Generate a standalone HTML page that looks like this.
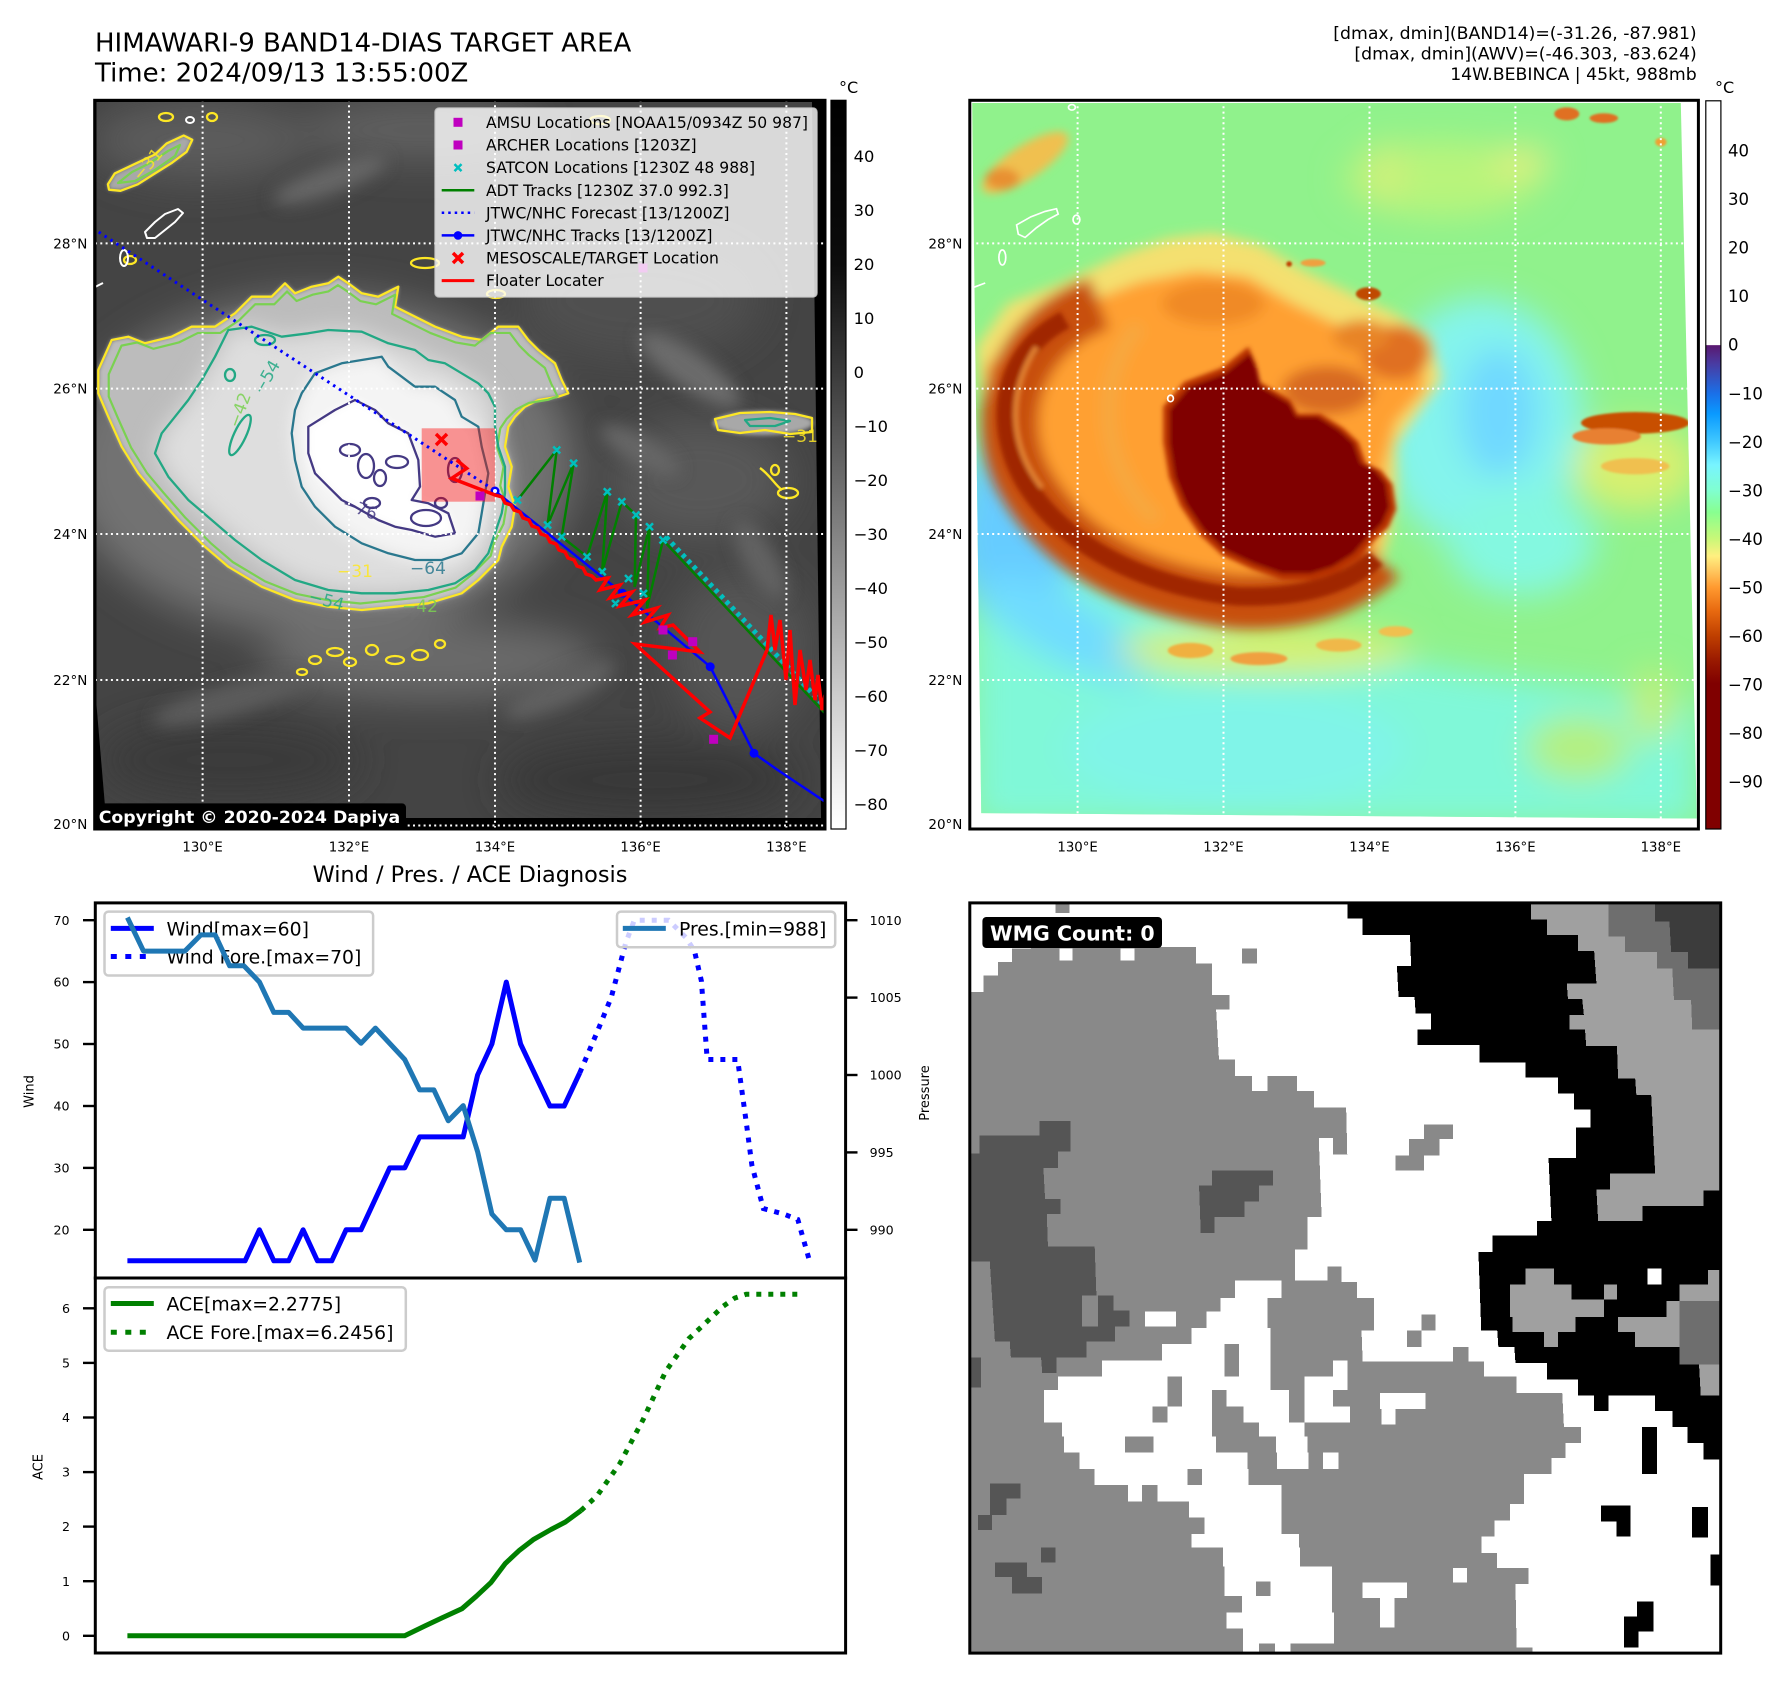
<!DOCTYPE html>
<html><head><meta charset="utf-8">
<style>
html,body{margin:0;padding:0;background:#fff;}
body{width:1788px;height:1690px;overflow:hidden;}
svg text{font-family:"DejaVu Sans","Liberation Sans",sans-serif;}
</style></head><body>
<svg width="1788" height="1690" viewBox="0 0 1788 1690" xmlns="http://www.w3.org/2000/svg">
<defs>
<filter id="f2" x="-50%" y="-50%" width="200%" height="200%"><feGaussianBlur stdDeviation="2"/></filter>
<filter id="f4" x="-50%" y="-50%" width="200%" height="200%"><feGaussianBlur stdDeviation="4"/></filter>
<filter id="f8" x="-50%" y="-50%" width="200%" height="200%"><feGaussianBlur stdDeviation="8"/></filter>
<filter id="f12" x="-50%" y="-50%" width="200%" height="200%"><feGaussianBlur stdDeviation="12"/></filter>
<filter id="f20" x="-50%" y="-50%" width="200%" height="200%"><feGaussianBlur stdDeviation="20"/></filter>
<filter id="f30" x="-50%" y="-50%" width="200%" height="200%"><feGaussianBlur stdDeviation="30"/></filter>
<clipPath id="clL"><rect x="94.7" y="100.3" width="730.3" height="728.7"/></clipPath>
<clipPath id="dL"><polygon points="96.5,102 812,102 821,818 106,818 96.5,705"/></clipPath>
<clipPath id="clW"><rect x="95.3" y="902.9" width="750.3" height="375.1"/></clipPath>
<clipPath id="clA"><rect x="95.3" y="1278" width="750.3" height="375"/></clipPath>
<linearGradient id="cb1" x1="0" y1="0" x2="0" y2="1">
<stop offset="0" stop-color="#000"/><stop offset="0.225" stop-color="#0c0c0c"/><stop offset="0.372" stop-color="#3a3a3a"/><stop offset="0.521" stop-color="#6b6b6b"/><stop offset="0.669" stop-color="#9c9c9c"/><stop offset="0.818" stop-color="#cdcdcd"/><stop offset="0.966" stop-color="#f7f7f7"/><stop offset="1" stop-color="#fff"/>
</linearGradient>
<linearGradient id="cb2" x1="0" y1="0" x2="0" y2="1">
<stop offset="0" stop-color="#fff"/><stop offset="0.335" stop-color="#fff"/><stop offset="0.336" stop-color="#5a1870"/><stop offset="0.36" stop-color="#4a3aa0"/><stop offset="0.402" stop-color="#1a70e8"/><stop offset="0.43" stop-color="#0a9aff"/><stop offset="0.468" stop-color="#40c8ff"/><stop offset="0.5" stop-color="#78f4ff"/><stop offset="0.535" stop-color="#80ffd0"/><stop offset="0.565" stop-color="#88ff90"/><stop offset="0.601" stop-color="#c8f878"/><stop offset="0.625" stop-color="#fff080"/><stop offset="0.645" stop-color="#ffc860"/><stop offset="0.668" stop-color="#ff9a30"/><stop offset="0.7" stop-color="#e86a10"/><stop offset="0.734" stop-color="#c04000"/><stop offset="0.77" stop-color="#981800"/><stop offset="0.8" stop-color="#800000"/><stop offset="1" stop-color="#800000"/>
</linearGradient>
</defs>

<!-- ===== TITLES ===== -->
<text x="95" y="51.5" font-size="26">HIMAWARI-9 BAND14-DIAS TARGET AREA</text>
<text x="95" y="81.3" font-size="26">Time: 2024/09/13 13:55:00Z</text>
<text x="1696.7" y="38.8" font-size="17.3" text-anchor="end">[dmax, dmin](BAND14)=(-31.26, -87.981)</text>
<text x="1696.7" y="59.4" font-size="17.3" text-anchor="end">[dmax, dmin](AWV)=(-46.303, -83.624)</text>
<text x="1696.7" y="80" font-size="17.3" text-anchor="end">14W.BEBINCA | 45kt, 988mb</text>

<!-- ===== LEFT MAP ===== -->
<g clip-path="url(#clL)">
<rect x="94.7" y="100.3" width="730.3" height="728.7" fill="#000"/>
<polygon points="96.5,102 812,102 821,818 106,818 96.5,705" fill="#444"/>
<g clip-path="url(#dL)">
 <g filter="url(#f20)">
  <ellipse cx="200" cy="140" rx="110" ry="40" fill="#5c5c5c"/>
  <ellipse cx="420" cy="130" rx="120" ry="30" fill="#606060"/>
  <ellipse cx="640" cy="300" rx="120" ry="60" fill="#505050"/>
  <ellipse cx="700" cy="480" rx="90" ry="60" fill="#585858"/>
  <ellipse cx="740" cy="650" rx="70" ry="80" fill="#545454"/>
  <ellipse cx="430" cy="660" rx="170" ry="40" fill="#6a6a6a"/>
  <ellipse cx="230" cy="760" rx="130" ry="40" fill="#3a3a3a"/>
  <ellipse cx="650" cy="780" rx="150" ry="40" fill="#383838"/>
  <ellipse cx="320" cy="465" rx="255" ry="170" fill="#727272"/>
 </g>
 <g filter="url(#f8)">
  <ellipse cx="690" cy="370" rx="60" ry="18" transform="rotate(35 690 370)" fill="#6c6c6c"/>
  <ellipse cx="640" cy="450" rx="45" ry="14" transform="rotate(30 640 450)" fill="#666"/>
  <ellipse cx="760" cy="560" rx="45" ry="16" transform="rotate(60 760 560)" fill="#626262"/>
  <ellipse cx="560" cy="690" rx="60" ry="15" transform="rotate(-25 560 690)" fill="#606060"/>
  <ellipse cx="230" cy="700" rx="80" ry="16" transform="rotate(-15 230 700)" fill="#5c5c5c"/>
  <ellipse cx="330" cy="180" rx="60" ry="14" transform="rotate(-20 330 180)" fill="#666"/>
 </g>
 <polygon filter="url(#f2)" fill="#a8a8a8" points="107.9,184.3 114.8,173.4 137.8,162.6 155,154.5 166.5,143.6 183.7,135.5 192.3,139.8 186.6,151.8 172.2,162.6 155,173.4 137.8,184.3 120.5,190.8 109,189.7"/>
 <ellipse cx="763" cy="423" rx="50" ry="12" fill="#a8a8a8" filter="url(#f2)"/>
 <polygon filter="url(#f2)" fill="#bcbcbc" points="98.3,370 111.7,340 128.3,336.7 145,343.3 171.7,336.7 191.7,326.7 215,326.7 235,313.3 251.7,296.7 271.7,296.7 285,283.3 295,293.3 311.7,286.7 328.3,283.3 338.3,276.7 348.3,283.3 361.7,293.3 378.3,296.7 398.3,286.7 395,306.7 415,316.7 435,326.7 461.7,336.7 481.7,340 498.3,326.7 518.3,326.7 528.3,340 538.3,350 555,363.3 561.7,380 568.3,393.3 558.3,396.7 538.3,400 525,406.7 515,416.7 508.3,426.7 505,446.7 511.7,466.7 508.3,486.7 515,506.7 511.7,526.7 501.7,546.7 498.3,560 478.3,580 461.7,593.3 428.3,603.3 395,606.7 361.7,610 328.3,606.7 295,600 261.7,586.7 228.3,566.7 205,546.7 178.3,520 155,493.3 138.3,473.3 121.7,446.7 108.3,416.7 98.3,393.3"/>
 <polygon filter="url(#f12)" fill="#dedede" points="228.3,330 251.7,326.7 281.7,336.7 308.3,333.3 328.3,330 361.7,331.7 388.3,343.3 415,350 428.3,360 445,363.3 461.7,373.3 478.3,383.3 488.3,393.3 495,406.7 495,426.7 498.3,446.7 505,466.7 505,493.3 501.7,513.3 495,533.3 488.3,553.3 475,570 455,583.3 428.3,590 395,593.3 361.7,593.3 328.3,590 295,580 261.7,560 235,540 211.7,520 188.3,500 168.3,476.7 155,453.3 161.7,433.3 175,416.7 188.3,400 201.7,380 215,356.7"/>
 <polygon filter="url(#f8)" fill="#f4f4f4" points="301.7,393.3 315,373.3 341.7,363.3 361.7,360 381.7,356.7 388.3,366.7 401.7,376.7 415,386.7 435,386.7 455,400 461.7,416.7 478.3,426.7 481.7,446.7 488.3,473.3 485,493.3 481.7,513.3 478.3,533.3 461.7,553.3 441.7,560 415,560 388.3,553.3 361.7,543.3 335,526.7 315,506.7 301.7,486.7 295,460 291.7,433.3 295,410"/>
 <polygon filter="url(#f4)" fill="#ffffff" points="308.3,426.7 335,410 355,400 375,410 388.3,423.3 408.3,433.3 418.3,460 420,486.7 411.7,500 428.3,503.3 448.3,513.3 455,533.3 435,536.7 411.7,530 395,526.7 378.3,520 355,506.7 341.7,500 328.3,486.7 315,473.3 308.3,453.3"/>
</g>
<!-- contours -->
<g fill="none" stroke-width="2.3" stroke-linejoin="round">
 <polygon stroke="#fde725" points="98.3,370 111.7,340 128.3,336.7 145,343.3 171.7,336.7 191.7,326.7 215,326.7 235,313.3 251.7,296.7 271.7,296.7 285,283.3 295,293.3 311.7,286.7 328.3,283.3 338.3,276.7 348.3,283.3 361.7,293.3 378.3,296.7 398.3,286.7 395,306.7 415,316.7 435,326.7 461.7,336.7 481.7,340 498.3,326.7 518.3,326.7 528.3,340 538.3,350 555,363.3 561.7,380 568.3,393.3 558.3,396.7 538.3,400 525,406.7 515,416.7 508.3,426.7 505,446.7 511.7,466.7 508.3,486.7 515,506.7 511.7,526.7 501.7,546.7 498.3,560 478.3,580 461.7,593.3 428.3,603.3 395,606.7 361.7,610 328.3,606.7 295,600 261.7,586.7 228.3,566.7 205,546.7 178.3,520 155,493.3 138.3,473.3 121.7,446.7 108.3,416.7 98.3,393.3"/>
 <polygon stroke="#7ad151" transform="translate(330,465) scale(0.955) translate(-330,-465)" points="98.3,370 111.7,340 128.3,336.7 145,343.3 171.7,336.7 191.7,326.7 215,326.7 235,313.3 251.7,296.7 271.7,296.7 285,283.3 295,293.3 311.7,286.7 328.3,283.3 338.3,276.7 348.3,283.3 361.7,293.3 378.3,296.7 398.3,286.7 395,306.7 415,316.7 435,326.7 461.7,336.7 481.7,340 498.3,326.7 518.3,326.7 528.3,340 538.3,350 555,363.3 561.7,380 568.3,393.3 558.3,396.7 538.3,400 525,406.7 515,416.7 508.3,426.7 505,446.7 511.7,466.7 508.3,486.7 515,506.7 511.7,526.7 501.7,546.7 498.3,560 478.3,580 461.7,593.3 428.3,603.3 395,606.7 361.7,610 328.3,606.7 295,600 261.7,586.7 228.3,566.7 205,546.7 178.3,520 155,493.3 138.3,473.3 121.7,446.7 108.3,416.7 98.3,393.3"/>
 <polygon stroke="#22a884" points="228.3,330 251.7,326.7 281.7,336.7 308.3,333.3 328.3,330 361.7,331.7 388.3,343.3 415,350 428.3,360 445,363.3 461.7,373.3 478.3,383.3 488.3,393.3 495,406.7 495,426.7 498.3,446.7 505,466.7 505,493.3 501.7,513.3 495,533.3 488.3,553.3 475,570 455,583.3 428.3,590 395,593.3 361.7,593.3 328.3,590 295,580 261.7,560 235,540 211.7,520 188.3,500 168.3,476.7 155,453.3 161.7,433.3 175,416.7 188.3,400 201.7,380 215,356.7"/>
 <polygon stroke="#2a788e" points="301.7,393.3 315,373.3 341.7,363.3 361.7,360 381.7,356.7 388.3,366.7 401.7,376.7 415,386.7 435,386.7 455,400 461.7,416.7 478.3,426.7 481.7,446.7 488.3,473.3 485,493.3 481.7,513.3 478.3,533.3 461.7,553.3 441.7,560 415,560 388.3,553.3 361.7,543.3 335,526.7 315,506.7 301.7,486.7 295,460 291.7,433.3 295,410"/>
 <polygon stroke="#443983" points="308.3,426.7 335,410 355,400 375,410 388.3,423.3 408.3,433.3 418.3,460 420,486.7 411.7,500 428.3,503.3 448.3,513.3 455,533.3 435,536.7 411.7,530 395,526.7 378.3,520 355,506.7 341.7,500 328.3,486.7 315,473.3 308.3,453.3"/>
 <g stroke="#443983">
  <ellipse cx="350" cy="450" rx="10" ry="6"/><ellipse cx="366" cy="466" rx="8" ry="12"/><ellipse cx="397" cy="462" rx="11" ry="6"/><ellipse cx="426" cy="518" rx="15" ry="8"/><ellipse cx="441" cy="503" rx="6" ry="5"/><ellipse cx="380" cy="478" rx="6" ry="8"/><ellipse cx="455" cy="470" rx="7" ry="12"/><ellipse cx="372" cy="503" rx="8" ry="5"/>
 </g>
 <g stroke="#22a884"><ellipse cx="240" cy="435" rx="6" ry="22" transform="rotate(25 240 435)"/><ellipse cx="230" cy="375" rx="5" ry="6"/><ellipse cx="265" cy="340" rx="10" ry="5"/></g>
 <polygon stroke="#fde725" points="107.9,184.3 114.8,173.4 137.8,162.6 155,154.5 166.5,143.6 183.7,135.5 192.3,139.8 186.6,151.8 172.2,162.6 155,173.4 137.8,184.3 120.5,190.8 109,189.7"/>
 <polygon stroke="#7ad151" points="118,183 132,172 150,163 168,151 180,145 175,156 155,170 135,181"/>
 <polygon stroke="#fde725" points="715,419 740,413 770,412 795,414 812,418 812,432 790,434 765,430 740,433 718,430"/>
 <polygon stroke="#22a884" points="745,420 770,418 790,421 775,426 750,426"/>
 <g stroke="#fde725">
  <ellipse cx="166" cy="117" rx="7" ry="4"/><ellipse cx="212" cy="117" rx="5" ry="4"/><ellipse cx="425" cy="263" rx="14" ry="5"/><ellipse cx="496" cy="294" rx="9" ry="4"/>
  <path d="M760,468 C770,475 775,485 782,490"/><ellipse cx="788" cy="493" rx="10" ry="5"/><ellipse cx="775" cy="470" rx="4" ry="5"/>
  <ellipse cx="315" cy="660" rx="6" ry="4"/><ellipse cx="335" cy="652" rx="8" ry="4"/><ellipse cx="350" cy="662" rx="6" ry="4"/><ellipse cx="372" cy="650" rx="6" ry="5"/><ellipse cx="395" cy="660" rx="9" ry="4"/><ellipse cx="420" cy="655" rx="8" ry="5"/><ellipse cx="440" cy="644" rx="5" ry="4"/><ellipse cx="302" cy="672" rx="5" ry="3"/>
  <ellipse cx="600" cy="120" rx="10" ry="4"/><ellipse cx="130" cy="260" rx="6" ry="4"/>
 </g>
 <g stroke="#ffffff" stroke-width="2">
  <polygon points="145,232 155,222 165,214 178,209 183,213 175,222 165,230 155,238 147,238"/>
  <ellipse cx="124" cy="258" rx="4" ry="8"/><path d="M95,287 L103,283"/><ellipse cx="190" cy="120" rx="4" ry="3"/>
 </g>
</g>
<g font-size="17" opacity="0.85">
 <text x="271.7" y="380" fill="#22a884" transform="rotate(-60 271.7 380)" text-anchor="middle">−54</text>
 <text x="358" y="514" fill="#443983" transform="rotate(20 358 514)" text-anchor="middle">−76</text>
 <text x="355" y="577" fill="#fde725" text-anchor="middle">−31</text>
 <text x="428" y="574" fill="#2a788e" text-anchor="middle">−64</text>
 <text x="325" y="606" fill="#22a884" transform="rotate(15 325 606)" text-anchor="middle">−54</text>
 <text x="420" y="612" fill="#7ad151" text-anchor="middle">−42</text>
 <text x="800" y="442" fill="#fde725" text-anchor="middle">−31</text>
 <text x="152" y="168" fill="#fde725" transform="rotate(-50 152 168)" text-anchor="middle">−31</text>
 <text x="245" y="412" fill="#7ad151" transform="rotate(-70 245 412)" text-anchor="middle">−42</text>
</g>
<!-- gridlines -->
<g stroke="#fff" stroke-width="2" stroke-dasharray="2 3.3">
 <line x1="202.6" y1="100" x2="202.6" y2="829"/><line x1="349" y1="100" x2="349" y2="829"/><line x1="495" y1="100" x2="495" y2="829"/><line x1="640.6" y1="100" x2="640.6" y2="829"/><line x1="786.4" y1="100" x2="786.4" y2="829"/>
 <line x1="95" y1="243.4" x2="825" y2="243.4"/><line x1="95" y1="388.6" x2="825" y2="388.6"/><line x1="95" y1="534" x2="825" y2="534"/><line x1="95" y1="680" x2="825" y2="680"/><line x1="95" y1="825.5" x2="825" y2="825.5"/>
</g>
<!-- tracks -->
<rect x="643" y="268" width="9" height="9" fill="#bf00bf" transform="translate(-4.5,-4.5)"/>
<rect x="421.7" y="428.3" width="73.3" height="73.4" fill="#ff0000" opacity="0.4"/>
<line x1="98.7" y1="232" x2="494.8" y2="490.6" stroke="#0000ff" stroke-width="3" stroke-dasharray="2.5 4.5"/>
<polyline fill="none" stroke="#00bfbf" stroke-width="5" stroke-dasharray="4 4" points="666,537 828,710"/>
<polyline fill="none" stroke="#008000" stroke-width="2.5" points="517.5,500 556.7,450 547.6,525 573.6,463.3 561.7,536.7 587,556.7 607.3,491.7 602.2,571.7 621.8,501.7 636,515 634.6,587 649.5,526.7 647,608 663,540 825,713.3"/>
<g stroke="#00bfbf" stroke-width="2.5" fill="none">
 <path d="M514,496.5l7,7m0,-7l-7,7 M553.2,446.5l7,7m0,-7l-7,7 M544.1,521.5l7,7m0,-7l-7,7 M570.1,459.8l7,7m0,-7l-7,7 M558.2,533.2l7,7m0,-7l-7,7 M583.5,553.2l7,7m0,-7l-7,7 M603.8,488.2l7,7m0,-7l-7,7 M598.7,568.2l7,7m0,-7l-7,7 M618.3,498.2l7,7m0,-7l-7,7 M632.5,511.5l7,7m0,-7l-7,7 M646,523.2l7,7m0,-7l-7,7 M659.5,536.5l7,7m0,-7l-7,7 M625,575l7,7m0,-7l-7,7 M640,590l7,7m0,-7l-7,7 M612,600l7,7m0,-7l-7,7"/>
</g>
<polyline fill="none" stroke="#0000ff" stroke-width="2.5" points="495,491 622.5,593.3 710.2,666.7 754,753.3 777.7,770 830,805"/>
<g fill="#0000ff"><circle cx="495" cy="491" r="4.5"/><circle cx="622.5" cy="593.3" r="4.5"/><circle cx="710.2" cy="666.7" r="4.5"/><circle cx="754" cy="753.3" r="4.5"/></g>
<circle cx="495" cy="491" r="2" fill="#fff"/>
<polyline fill="none" stroke="#ff0000" stroke-width="3.5" stroke-linejoin="miter" points="456.7,460 466.7,468.3 451.7,478.3 495,495 502,497 505,503 511,505 514,510 520,512 523,518 529,520 532,526 538,528 541,534 547,536 550,542 556,544 559,550 565,552 568,558 574,560 577,566 583,568 586,574 592,576 596,580 608,578 600,590 620,585 610,598 632,592 620,606 645,600 632,615 657,608 645,622 668,615 660,628 673,625 700,652 635,644 656,663 710,712 700,718 730,738 767,650 771,615 775,650 780,620 786,680 790,630 795,705 800,650 806,690 810,660 815,700 818,675 822,710 825,695"/>
<g fill="#bf00bf"><rect x="475.5" y="491.5" width="9" height="9"/><rect x="658.5" y="625.5" width="9" height="9"/><rect x="688.2" y="637.2" width="9" height="9"/><rect x="667.9" y="650.5" width="9" height="9"/><rect x="709.1" y="734.8" width="9" height="9"/></g>
<path d="M436,434l11,11m0,-11l-11,11" stroke="#ff0000" stroke-width="3.5"/>
<!-- legend -->
<rect x="435" y="108" width="382" height="189" rx="4" fill="#fff" fill-opacity="0.8" stroke="#cccccc" stroke-opacity="0.8" stroke-width="1.5"/>
<g font-size="15.6" fill="#000">
 <text x="486" y="127.9">AMSU Locations [NOAA15/0934Z 50 987]</text>
 <text x="486" y="150.6">ARCHER Locations [1203Z]</text>
 <text x="486" y="173.2">SATCON Locations [1230Z 48 988]</text>
 <text x="486" y="195.8">ADT Tracks [1230Z 37.0 992.3]</text>
 <text x="486" y="218.4">JTWC/NHC Forecast [13/1200Z]</text>
 <text x="486" y="241">JTWC/NHC Tracks [13/1200Z]</text>
 <text x="486" y="263.6">MESOSCALE/TARGET Location</text>
 <text x="486" y="286.2">Floater Locater</text>
</g>
<rect x="453.5" y="117.8" width="9" height="9" fill="#bf00bf"/>
<rect x="453.5" y="140.5" width="9" height="9" fill="#bf00bf"/>
<path d="M454.5,164.1l7,7m0,-7l-7,7" stroke="#00bfbf" stroke-width="2.5"/>
<line x1="441.7" y1="190.2" x2="474.3" y2="190.2" stroke="#008000" stroke-width="2.5"/>
<line x1="441.7" y1="212.8" x2="474.3" y2="212.8" stroke="#0000ff" stroke-width="2.5" stroke-dasharray="2.5 4"/>
<line x1="441.7" y1="235.4" x2="474.3" y2="235.4" stroke="#0000ff" stroke-width="2.5"/>
<circle cx="458" cy="235.4" r="4.3" fill="#0000ff"/>
<path d="M453,253l10,10m0,-10l-10,10" stroke="#ff0000" stroke-width="3.5"/>
<line x1="441.7" y1="280.6" x2="474.3" y2="280.6" stroke="#ff0000" stroke-width="3"/>
<!-- copyright -->
<rect x="93" y="803.4" width="313" height="27" rx="4" fill="#000"/>
<text x="98.7" y="822.8" font-size="17.3" font-weight="bold" fill="#fff">Copyright © 2020-2024 Dapiya</text>
</g>
<rect x="94.7" y="100.3" width="730.3" height="728.7" fill="none" stroke="#000" stroke-width="3"/>

<!-- colorbar 1 -->
<rect x="831" y="100.3" width="15" height="728.7" fill="url(#cb1)" stroke="#000" stroke-width="1.2"/>
<text x="839" y="93" font-size="16">°C</text>
<g font-size="16.3">
<text x="853.6" y="162">40</text><text x="853.6" y="216">30</text><text x="853.6" y="270">20</text><text x="853.6" y="323.9">10</text><text x="853.6" y="377.9">0</text><text x="853.6" y="431.9">−10</text><text x="853.6" y="485.9">−20</text><text x="853.6" y="539.9">−30</text><text x="853.6" y="593.8">−40</text><text x="853.6" y="647.8">−50</text><text x="853.6" y="701.8">−60</text><text x="853.6" y="755.8">−70</text><text x="853.6" y="809.8">−80</text>
</g>
<!-- map labels -->
<g font-size="13.5" text-anchor="end">
<text x="87.3" y="248.3">28°N</text><text x="87.3" y="393.5">26°N</text><text x="87.3" y="538.9">24°N</text><text x="87.3" y="684.9">22°N</text><text x="87.3" y="829">20°N</text>
<text x="962.4" y="248.3">28°N</text><text x="962.4" y="393.5">26°N</text><text x="962.4" y="538.9">24°N</text><text x="962.4" y="684.9">22°N</text><text x="962.4" y="829">20°N</text>
</g>
<g font-size="13.3" text-anchor="middle">
<text x="202.6" y="851.4">130°E</text><text x="349" y="851.4">132°E</text><text x="495" y="851.4">134°E</text><text x="640.6" y="851.4">136°E</text><text x="786.4" y="851.4">138°E</text>
<text x="1077.6" y="851.4">130°E</text><text x="1223.5" y="851.4">132°E</text><text x="1369.5" y="851.4">134°E</text><text x="1515.4" y="851.4">136°E</text><text x="1660.8" y="851.4">138°E</text>
</g>

<!-- ===== RIGHT MAP (zoom coords) ===== -->
<svg x="894" y="0" width="894" height="850" viewBox="0 0 1568 1568" preserveAspectRatio="none">
<defs><clipPath id="rd"><polygon points="137,190 1380,190 1408,1510 153,1500"/></clipPath></defs>
<rect x="135" y="187" width="1276" height="1343" fill="#fff"/>
<g clip-path="url(#rd)">
 <rect x="130" y="185" width="1290" height="1350" fill="#90f28c"/>
 <g filter="url(#f30)">
  <path d="M137,760 C300,950 450,1120 700,1180 C900,1230 1100,1250 1408,1300 L1408,1520 L140,1520 Z" fill="#80f8d8"/>
  <ellipse cx="210" cy="980" rx="110" ry="170" fill="#66ccff"/>
  <ellipse cx="300" cy="1160" rx="170" ry="60" transform="rotate(30 300 1160)" fill="#70dcff"/>
  <ellipse cx="600" cy="1380" rx="300" ry="110" fill="#80f4e8"/>
  <ellipse cx="1030" cy="780" rx="180" ry="230" fill="#84f4ec"/>
  <ellipse cx="1060" cy="760" rx="70" ry="120" fill="#70d8ff"/>
  <ellipse cx="1100" cy="1000" rx="130" ry="100" fill="#84f8e0"/>
  <ellipse cx="960" cy="330" rx="170" ry="70" fill="#b8f47c"/>
  <ellipse cx="1100" cy="300" rx="50" ry="30" fill="#e0f080"/>
  <ellipse cx="860" cy="320" rx="30" ry="60" fill="#d0f07c"/>
  <ellipse cx="1300" cy="860" rx="110" ry="80" fill="#d8f070"/>
  <ellipse cx="650" cy="1200" rx="260" ry="45" fill="#d8f070"/>
  <ellipse cx="1200" cy="1380" rx="90" ry="60" fill="#b4f080"/>
  <ellipse cx="1330" cy="1300" rx="40" ry="70" fill="#c0f078"/>
 </g>
 <g filter="url(#f8)">
  <ellipse cx="230" cy="300" rx="90" ry="30" transform="rotate(-35 230 300)" fill="#f0c050"/>
  <ellipse cx="190" cy="330" rx="30" ry="20" fill="#e89030"/>
 </g>
 <g filter="url(#f12)">
  <polygon fill="#f4e070" points="145,640 200,560 300,520 400,470 480,440 560,430 640,450 720,500 800,540 880,580 940,620 960,700 920,760 880,820 880,900 870,980 850,1060 780,1110 680,1150 560,1150 460,1120 370,1070 280,990 210,900 160,800"/>
  <polygon fill="#ffa030" points="160,680 230,600 330,560 430,520 530,500 620,510 700,560 780,600 860,620 930,660 930,720 880,780 860,860 860,960 840,1040 770,1100 660,1130 560,1130 460,1100 370,1050 290,980 230,900 180,790"/>
  <path d="M360,560 C220,610 170,760 225,880 C295,1020 430,1090 600,1110 C720,1115 800,1080 850,1030" fill="none" stroke="#c85010" stroke-width="100"/>
  <path d="M430,600 C350,700 360,860 460,960" fill="none" stroke="#f6a840" stroke-width="28"/>
  <ellipse cx="880" cy="650" rx="60" ry="50" fill="#e07020"/>
  <ellipse cx="820" cy="620" rx="50" ry="30" fill="#e88428"/>
  <ellipse cx="760" cy="720" rx="80" ry="45" fill="#d86a20"/>
  <ellipse cx="560" cy="560" rx="90" ry="40" fill="#f08a28"/>
 </g>
 <g filter="url(#f4)">
  <path d="M300,590 C190,650 170,780 230,890 C300,1010 440,1080 600,1100 C720,1105 800,1075 845,1030" fill="none" stroke="#a02800" stroke-width="34"/>
  <path d="M250,640 C200,720 200,820 260,900" fill="none" stroke="#e08030" stroke-width="10"/>
  <polygon fill="#b83000" transform="translate(670,860) scale(1.06) translate(-670,-860)" points="483.4,756.5 518,713.5 580.6,688.7 624.4,651.8 636.9,682.7 643.2,713.5 693.4,744.1 705.8,768.8 743.5,768.8 781.1,793.4 806.2,817.9 818.6,854.8 843.7,867.2 862.5,891.7 868.8,934.9 856.2,965.5 831.2,990.2 806.2,1020.8 768.4,1045.6 730.9,1057.7 680.7,1057.7 630.7,1039.3 580.6,1014.8 543,977.9 511.6,928.6 492.9,879.5 483.4,817.9"/>
  <polygon fill="#800000" points="483.4,756.5 518,713.5 580.6,688.7 624.4,651.8 636.9,682.7 643.2,713.5 693.4,744.1 705.8,768.8 743.5,768.8 781.1,793.4 806.2,817.9 818.6,854.8 843.7,867.2 862.5,891.7 868.8,934.9 856.2,965.5 831.2,990.2 806.2,1020.8 768.4,1045.6 730.9,1057.7 680.7,1057.7 630.7,1039.3 580.6,1014.8 543,977.9 511.6,928.6 492.9,879.5 483.4,817.9"/>
 </g>
 <g filter="url(#f2)">
  <ellipse cx="1300" cy="780" rx="95" ry="20" fill="#c85000"/>
  <ellipse cx="1250" cy="805" rx="60" ry="15" fill="#e88030"/>
  <ellipse cx="1300" cy="860" rx="60" ry="15" fill="#f0c050"/>
  <ellipse cx="1180" cy="210" rx="22" ry="12" fill="#e07020"/>
  <ellipse cx="1245" cy="218" rx="25" ry="9" fill="#e07020"/>
  <ellipse cx="1345" cy="262" rx="10" ry="8" fill="#f0a030"/>
  <ellipse cx="693" cy="487" rx="5" ry="5" fill="#c04000"/>
  <ellipse cx="735" cy="485" rx="22" ry="7" fill="#f0a040"/>
  <ellipse cx="832" cy="542" rx="22" ry="12" fill="#c04a00"/>
  <ellipse cx="520" cy="1200" rx="40" ry="14" fill="#f0b040"/>
  <ellipse cx="640" cy="1215" rx="50" ry="12" fill="#f0a040"/>
  <ellipse cx="780" cy="1190" rx="40" ry="12" fill="#f0b848"/>
  <ellipse cx="880" cy="1165" rx="30" ry="10" fill="#f0c050"/>
 </g>
 <g fill="none" stroke="#fff" stroke-width="3">
  <polygon points="215,415 240,400 265,390 285,385 288,395 270,405 250,420 230,438 218,432"/>
  <ellipse cx="190" cy="475" rx="6" ry="14"/><path d="M140,530 L160,522"/><ellipse cx="485" cy="735" rx="5" ry="6"/>
  <ellipse cx="312" cy="198" rx="6" ry="5"/><ellipse cx="320" cy="405" rx="6" ry="8"/>
 </g>
</g>
</svg>
<g stroke="#fff" stroke-width="2" stroke-dasharray="2 3.3">
 <line x1="1077.6" y1="101" x2="1077.6" y2="828"/><line x1="1223.5" y1="101" x2="1223.5" y2="828"/><line x1="1369.5" y1="101" x2="1369.5" y2="828"/><line x1="1515.4" y1="101" x2="1515.4" y2="828"/><line x1="1660.8" y1="101" x2="1660.8" y2="828"/>
 <line x1="971" y1="243.4" x2="1697" y2="243.4"/><line x1="971" y1="388.6" x2="1697" y2="388.6"/><line x1="971" y1="534" x2="1697" y2="534"/><line x1="971" y1="680" x2="1697" y2="680"/>
</g>
<rect x="969.8" y="100.3" width="728.6" height="728.7" fill="none" stroke="#000" stroke-width="3"/>
<rect x="1705.8" y="100.8" width="15.1" height="728.2" fill="url(#cb2)" stroke="#000" stroke-width="1.2"/>
<text x="1715" y="93" font-size="16">°C</text>
<g font-size="16.5">
<text x="1728" y="156.6">40</text><text x="1728" y="205.1">30</text><text x="1728" y="253.7">20</text><text x="1728" y="302.2">10</text><text x="1728" y="350.7">0</text><text x="1728" y="399.3">−10</text><text x="1728" y="447.8">−20</text><text x="1728" y="496.3">−30</text><text x="1728" y="544.8">−40</text><text x="1728" y="593.4">−50</text><text x="1728" y="641.9">−60</text><text x="1728" y="690.4">−70</text><text x="1728" y="739">−80</text><text x="1728" y="787.5">−90</text>
</g>

<!-- ===== WIND / PRES ===== -->
<text x="470" y="882" font-size="22.4" text-anchor="middle">Wind / Pres. / ACE Diagnosis</text>
<g clip-path="url(#clW)">
 <polyline fill="none" stroke="#0000ff" stroke-width="5" stroke-linejoin="round" points="127.4,1260.8 245.1,1260.8 259.4,1229.8 273.8,1260.8 288.7,1260.8 303.1,1229.8 317.4,1260.8 331.8,1260.8 346.1,1229.8 361,1229.8 389.7,1167.9 404.7,1167.9 419.6,1136.9 463.2,1136.9 477.6,1075 491.9,1044 506.3,982.1 520.6,1044 549.9,1106 564.2,1106 579.7,1073"/>
 <polyline fill="none" stroke="#0000ff" stroke-width="5" stroke-dasharray="5 7" points="579.7,1073 597,1032.4 611.3,997.2 625.7,943 634.3,920.2 668.7,920.2 685.9,937.6 694.5,951.1 701.4,981 707.2,1059.5 737.6,1059.5 746.2,1121.9 751.9,1165.3 763.4,1208.6 783.5,1214 797.8,1219.5 809.3,1260.1"/>
</g>
<rect x="104.5" y="911.6" width="268.6" height="63.9" rx="4" fill="#fff" fill-opacity="0.8" stroke="#cccccc" stroke-width="2.5"/>
<line x1="110.8" y1="928.4" x2="153.8" y2="928.4" stroke="#0000ff" stroke-width="5"/>
<line x1="110.8" y1="956.5" x2="153.8" y2="956.5" stroke="#0000ff" stroke-width="5" stroke-dasharray="6 8.5"/>
<text x="166.5" y="935.3" font-size="18.8">Wind[max=60]</text>
<text x="166.5" y="963.3" font-size="18.8">Wind Fore.[max=70]</text>
<g clip-path="url(#clW)">
 <polyline fill="none" stroke="#1f77b4" stroke-width="5" stroke-linejoin="round" points="127.4,917.5 143.5,951.1 184.8,951.1 200.9,934.9 215.2,934.9 229.6,965.8 243.9,965.8 259.4,982 273.8,1012.4 288.7,1012.4 303.1,1028.1 346.1,1028.1 361,1043.3 375.4,1028.1 404.7,1059.5 419.6,1089.9 433.9,1089.9 448.3,1120.8 463.2,1105.6 477.6,1151.7 491.9,1214 506.3,1229.8 520.6,1229.8 535,1260.1 549.9,1198.3 564.2,1198.3 579.7,1262.6"/>
</g>
<rect x="617" y="911.6" width="218.2" height="35.7" rx="4" fill="#fff" fill-opacity="0.8" stroke="#cccccc" stroke-width="2.5"/>
<line x1="622.8" y1="928.4" x2="665.8" y2="928.4" stroke="#1f77b4" stroke-width="5"/>
<text x="679" y="935.3" font-size="18.8">Pres.[min=988]</text>
<rect x="95.3" y="902.9" width="750.3" height="375.1" fill="none" stroke="#000" stroke-width="3"/>
<g stroke="#000" stroke-width="2.4">
 <line x1="83" y1="920.2" x2="95.3" y2="920.2"/><line x1="83" y1="982.1" x2="95.3" y2="982.1"/><line x1="83" y1="1044" x2="95.3" y2="1044"/><line x1="83" y1="1106" x2="95.3" y2="1106"/><line x1="83" y1="1167.9" x2="95.3" y2="1167.9"/><line x1="83" y1="1229.8" x2="95.3" y2="1229.8"/>
 <line x1="845.6" y1="920.2" x2="857.5" y2="920.2"/><line x1="845.6" y1="997.6" x2="857.5" y2="997.6"/><line x1="845.6" y1="1075" x2="857.5" y2="1075"/><line x1="845.6" y1="1152.4" x2="857.5" y2="1152.4"/><line x1="845.6" y1="1229.8" x2="857.5" y2="1229.8"/>
</g>
<g font-size="12.6" text-anchor="end">
 <text x="69.5" y="924.8">70</text><text x="69.5" y="986.7">60</text><text x="69.5" y="1048.6">50</text><text x="69.5" y="1110.6">40</text><text x="69.5" y="1172.5">30</text><text x="69.5" y="1234.4">20</text>
</g>
<g font-size="12.6">
 <text x="869.6" y="924.8">1010</text><text x="869.6" y="1002.2">1005</text><text x="869.6" y="1079.6">1000</text><text x="869.6" y="1157">995</text><text x="869.6" y="1234.4">990</text>
</g>
<text x="30" y="1091.5" font-size="13" text-anchor="middle" dominant-baseline="central" transform="rotate(-90 30 1091.5)">Wind</text>
<text x="925.3" y="1093" font-size="13" text-anchor="middle" dominant-baseline="central" transform="rotate(-90 925.3 1093)">Pressure</text>

<!-- ===== ACE ===== -->
<g clip-path="url(#clA)">
 <polyline fill="none" stroke="#008000" stroke-width="5" stroke-linejoin="round" points="127.4,1635.8 404.7,1635.8 424.8,1626 442,1617.9 462,1608.7 476.4,1596.2 490.8,1582.7 505.1,1563.7 519.5,1550.2 533.8,1539.3 551,1529.5 565.4,1522 580.9,1510.6"/>
 <polyline fill="none" stroke="#008000" stroke-width="5" stroke-dasharray="5 7" points="580.9,1510.6 597,1495.9 608.4,1479.7 619.9,1463.4 631.4,1441.7 642.9,1420 654.3,1395.6 665.8,1371.2 677.3,1355 688.8,1338.7 706,1322.5 723.2,1306.2 734.7,1298.1 746.2,1294.3 803.6,1294.3"/>
</g>
<rect x="104.5" y="1287.2" width="301.3" height="63.5" rx="4" fill="#fff" fill-opacity="0.8" stroke="#cccccc" stroke-width="2.5"/>
<line x1="110.8" y1="1303.5" x2="153.8" y2="1303.5" stroke="#008000" stroke-width="5"/>
<line x1="110.8" y1="1332.2" x2="153.8" y2="1332.2" stroke="#008000" stroke-width="5" stroke-dasharray="6 8.5"/>
<text x="166.5" y="1310.4" font-size="18.8">ACE[max=2.2775]</text>
<text x="166.5" y="1339" font-size="18.8">ACE Fore.[max=6.2456]</text>
<rect x="95.3" y="1278" width="750.3" height="375" fill="none" stroke="#000" stroke-width="3"/>
<g stroke="#000" stroke-width="2.4">
 <line x1="83" y1="1308.3" x2="95.3" y2="1308.3"/><line x1="83" y1="1362.9" x2="95.3" y2="1362.9"/><line x1="83" y1="1417.5" x2="95.3" y2="1417.5"/><line x1="83" y1="1472.1" x2="95.3" y2="1472.1"/><line x1="83" y1="1526.6" x2="95.3" y2="1526.6"/><line x1="83" y1="1581.2" x2="95.3" y2="1581.2"/><line x1="83" y1="1635.8" x2="95.3" y2="1635.8"/>
</g>
<g font-size="12.6" text-anchor="end">
 <text x="70" y="1312.9">6</text><text x="70" y="1367.5">5</text><text x="70" y="1422.1">4</text><text x="70" y="1476.7">3</text><text x="70" y="1531.2">2</text><text x="70" y="1585.8">1</text><text x="70" y="1640.4">0</text>
</g>
<text x="39" y="1467" font-size="13" text-anchor="middle" dominant-baseline="central" transform="rotate(-90 39 1467)">ACE</text>

<!-- ===== WMG (zoom coords) ===== -->
<svg x="894" y="840" width="894" height="850" viewBox="0 0 1568 1568" preserveAspectRatio="none" shape-rendering="crispEdges">
<defs><clipPath id="wc"><rect x="133" y="116" width="1317" height="1384"/></clipPath></defs>
<g clip-path="url(#wc)">
<rect x="133" y="116" width="1317" height="1384" fill="#898989"/>
<polygon fill="#fff" points="133,116 795,116 795,145 822,145 822,175 905,175 907,232 882,232 885,290 913,290 915,320 942,320 942,350 918,350 918,378 1027,378 1027,410 1108,410 1108,438 1165,438 1165,468 1193,468 1193,497 1222,497 1222,530 1196,530 1196,587 1148,587 1153,703 1128,703 1128,730 1050,730 1050,760 1025,760 1030,905 1058,905 1060,935 1088,935 1090,965 1145,965 1145,995 1200,995 1200,1025 1228,1025 1228,1053 1253,1053 1253,1025 1335,1025 1335,1053 1365,1053 1365,1083 1392,1083 1392,1112 1420,1112 1420,1143 1450,1143 1450,1500 1120,1500 1120,1490 1092,1490 1090,1372 1113,1372 1113,1343 1058,1343 1058,1315 1030,1315 1030,1285 1053,1285 1053,1255 1080,1255 1080,1225 1105,1225 1105,1170 1153,1170 1153,1140 1178,1140 1178,1112 1205,1112 1205,1083 1175,1083 1172,1020 1092,1020 1092,990 1035,990 1035,962 822,962 820,905 842,905 842,845 812,845 812,815 785,815 785,787 760,787 760,813 703,813 703,755 725,755 725,695 750,695 745,550 770,550 770,580 795,580 793,493 737,493 737,463 707,463 707,435 655,435 655,463 628,463 628,435 598,435 598,405 570,405 565,313 588,313 588,286 558,286 558,228 530,228 530,197 207,200 207,225 182,225 182,250 157,250 157,280 133,280"/>
<g fill="#fff">
<rect x="290" y="200" width="23" height="22"/><rect x="397" y="200" width="25" height="22"/>
<rect x="598" y="813" width="82" height="32"/><rect x="573" y="845" width="82" height="25"/><rect x="548" y="870" width="107" height="30"/><rect x="440" y="870" width="55" height="27"/><rect x="522" y="900" width="138" height="30"/><rect x="470" y="930" width="110" height="30"/><rect x="605" y="930" width="55" height="30"/><rect x="365" y="960" width="215" height="30"/><rect x="605" y="960" width="55" height="30"/><rect x="770" y="960" width="25" height="30"/><rect x="288" y="990" width="192" height="25"/><rect x="505" y="990" width="155" height="25"/><rect x="720" y="990" width="75" height="25"/><rect x="263" y="1015" width="217" height="30"/><rect x="505" y="1015" width="53" height="30"/><rect x="583" y="1015" width="110" height="30"/><rect x="720" y="1015" width="50" height="30"/><rect x="263" y="1045" width="190" height="30"/><rect x="480" y="1045" width="78" height="30"/><rect x="613" y="1045" width="80" height="30"/><rect x="720" y="1045" width="80" height="30"/><rect x="295" y="1075" width="263" height="25"/><rect x="640" y="1075" width="80" height="25"/><rect x="298" y="1100" width="107" height="30"/><rect x="455" y="1100" width="110" height="30"/><rect x="670" y="1100" width="55" height="30"/><rect x="325" y="1130" width="295" height="30"/><rect x="672" y="1130" width="55" height="30"/><rect x="752" y="1130" width="28" height="30"/><rect x="352" y="1160" width="163" height="30"/><rect x="540" y="1160" width="82" height="30"/><rect x="410" y="1190" width="25" height="30"/><rect x="462" y="1190" width="218" height="30"/><rect x="517" y="1220" width="163" height="30"/><rect x="545" y="1250" width="135" height="30"/><rect x="522" y="1280" width="188" height="25"/><rect x="577" y="1305" width="135" height="35"/><rect x="580" y="1340" width="188" height="28"/><rect x="580" y="1368" width="55" height="27"/><rect x="660" y="1368" width="108" height="27"/><rect x="610" y="1395" width="158" height="30"/><rect x="583" y="1425" width="27" height="30"/><rect x="610" y="1425" width="162" height="30"/><rect x="612" y="1455" width="160" height="27"/><rect x="612" y="1482" width="28" height="20"/><rect x="668" y="1482" width="27" height="20"/>
<rect x="852" y="1020" width="80" height="30"/><rect x="855" y="1050" width="25" height="28"/><rect x="980" y="1343" width="25" height="27"/><rect x="822" y="1370" width="78" height="28"/><rect x="852" y="1398" width="26" height="55"/>
</g>
<g fill="#898989">
<rect x="283" y="116" width="25" height="19"/><rect x="610" y="200" width="27" height="28"/><rect x="930" y="525" width="50" height="27"/><rect x="903" y="552" width="54" height="30"/><rect x="880" y="582" width="50" height="28"/><rect x="925" y="875" width="25" height="30"/><rect x="900" y="905" width="25" height="30"/><rect x="980" y="935" width="28" height="27"/>
</g>
<polygon fill="#000" points="795,116 1117,116 1117,147 1145,147 1145,175 1200,175 1200,205 1228,205 1232,265 1180,265 1182,293 1207,293 1210,323 1185,323 1185,350 1212,350 1214,380 1268,380 1270,440 1300,440 1302,470 1328,470 1335,615 1256,615 1256,645 1232,645 1235,703 1313,703 1313,675 1420,675 1420,647 1450,647 1450,1143 1420,1143 1420,1112 1392,1112 1392,1083 1365,1083 1365,1053 1335,1053 1335,1025 1253,1025 1253,1053 1228,1053 1228,1025 1200,1025 1200,995 1145,995 1145,965 1090,965 1088,935 1060,935 1058,905 1030,905 1025,760 1050,760 1050,730 1128,730 1128,703 1153,703 1148,587 1196,587 1196,530 1222,530 1222,497 1193,497 1193,468 1165,468 1165,438 1108,438 1108,410 1027,410 1027,378 918,378 918,350 942,350 942,320 915,320 913,290 885,290 882,232 907,232 905,175 822,175 822,145 795,145"/>
<polygon fill="#a0a0a0" points="1117,116 1450,116 1450,647 1420,647 1420,675 1313,675 1313,703 1235,703 1232,645 1256,645 1256,615 1335,615 1328,470 1302,470 1300,440 1270,440 1268,380 1214,380 1212,350 1185,350 1185,323 1210,323 1207,293 1182,293 1180,265 1232,265 1228,205 1200,205 1200,175 1145,175 1145,147 1117,147"/>
<polygon fill="#6e6e6e" points="1253,116 1450,116 1450,350 1400,350 1398,295 1368,295 1365,237 1338,237 1338,207 1282,207 1282,178 1253,178"/>
<polygon fill="#3c3c3c" points="1335,116 1450,116 1450,237 1393,237 1393,207 1363,207 1360,150 1335,150"/>
<polygon fill="#a0a0a0" points="1080,820 1108,820 1108,790 1158,790 1158,820 1188,820 1188,848 1245,848 1245,880 1195,880 1195,908 1165,908 1165,935 1140,935 1140,908 1085,908 1085,880 1080,880"/>
<rect x="1245" y="820" width="23" height="28" fill="#a0a0a0"/>
<polygon fill="#a0a0a0" points="1270,880 1355,880 1355,850 1378,850 1378,820 1450,820 1450,1025 1415,1025 1412,968 1385,968 1385,935 1300,935 1300,908 1270,908"/>
<rect x="1378" y="850" width="72" height="118" fill="#6e6e6e"/>
<rect x="1322" y="790" width="24" height="30" fill="#fff"/>
<rect x="1428" y="793" width="22" height="27" fill="#a0a0a0"/>
<g fill="#000">
<rect x="1312" y="1083" width="26" height="87"/><rect x="1240" y="1228" width="52" height="29"/><rect x="1267" y="1257" width="25" height="28"/><rect x="1400" y="1230" width="28" height="57"/><rect x="1432" y="1318" width="18" height="57"/><rect x="1303" y="1405" width="29" height="55"/><rect x="1280" y="1432" width="26" height="58"/>
</g>
<polygon fill="#555555" points="150,545 255,545 255,518 310,518 310,575 288,575 288,605 262,605 265,662 292,662 292,690 268,690 270,750 352,750 355,840 385,840 385,868 413,868 413,897 388,897 388,925 338,925 338,955 285,955 285,983 260,983 258,955 205,955 203,925 177,925 168,778 133,778 133,578 150,578"/>
<rect x="330" y="840" width="28" height="57" fill="#898989"/>
<polygon fill="#555555" points="558,610 665,610 665,637 640,637 640,667 615,667 615,695 562,695 562,725 538,725 535,637 558,637"/>
<g fill="#555555">
<rect x="133" y="955" width="20" height="55"/><rect x="168" y="1187" width="54" height="28"/><rect x="168" y="1215" width="29" height="30"/><rect x="147" y="1245" width="25" height="28"/><rect x="258" y="1305" width="25" height="28"/><rect x="177" y="1333" width="56" height="27"/><rect x="207" y="1360" width="53" height="30"/>
</g>
</g>
</svg>
<rect x="969.8" y="902.9" width="750.9" height="750.2" fill="none" stroke="#000" stroke-width="3"/>
<rect x="982.4" y="917" width="179.6" height="31" rx="4" fill="#000"/>
<text x="990" y="940.5" font-size="20.5" font-weight="bold" fill="#fff">WMG Count: 0</text>
</svg>
</body></html>
